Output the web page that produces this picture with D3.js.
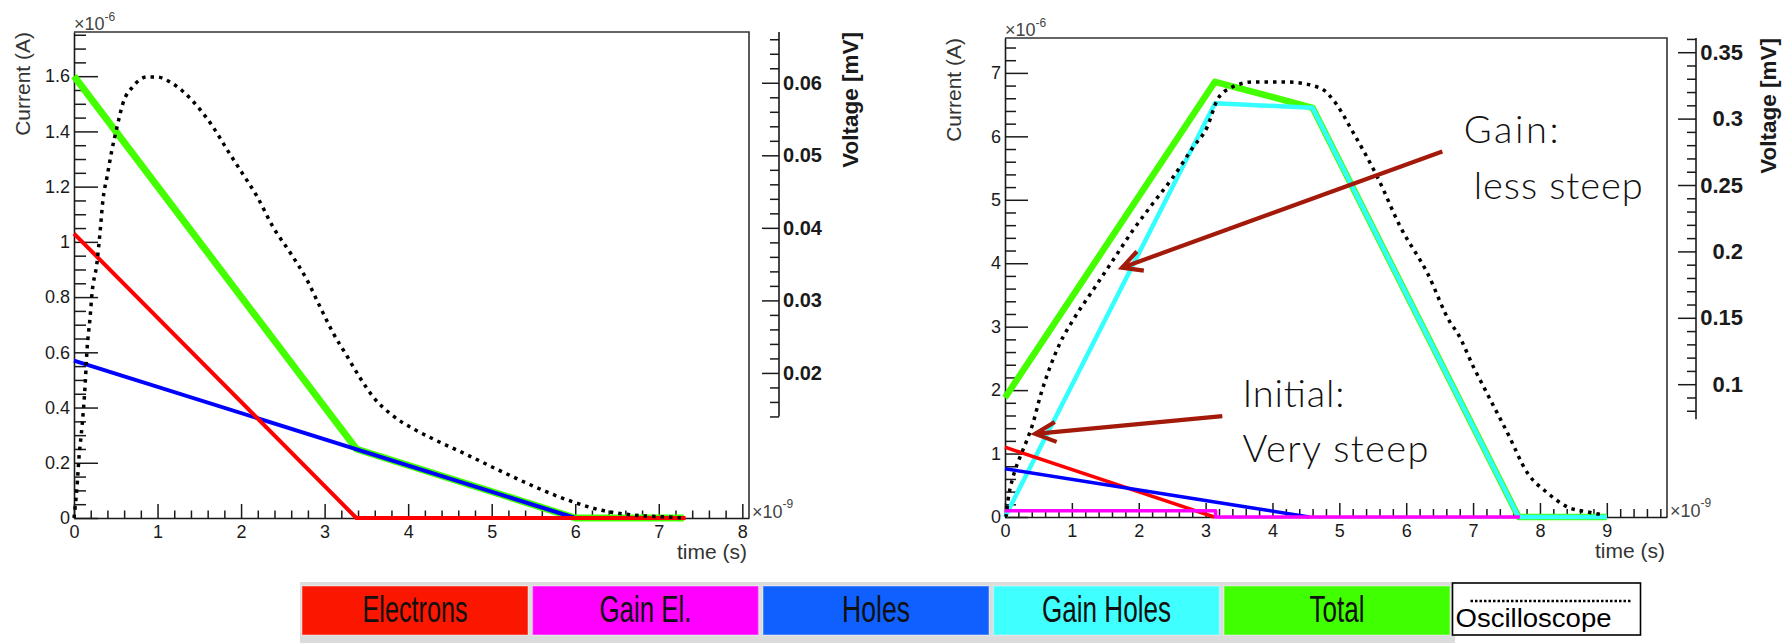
<!DOCTYPE html>
<html>
<head>
<meta charset="utf-8">
<script src="https://cdn.jsdelivr.net/npm/d3@7"></script>
<style>
  body { margin: 0; background: #fff; }
  svg { display: block; }
</style>
</head>
<body>
<svg id="chart" width="1791" height="643"></svg>
<script>
// ---------------- Data ----------------
// Left panel: induced current without gain (time in ns, current in µA)
const leftElectrons = [[0, 1.03], [3.38, 0], [7.32, 0]];
const leftHoles     = [[0, 0.57], [6.0, 0]];
const leftTotal     = [[0, 1.60], [3.38, 0.25], [6.0, 0], [7.3, 0]];
// Left panel: oscilloscope voltage (time in ns, voltage in mV)
const leftScopeTime = [0, 0.036, 0.06, 0.096, 0.132, 0.156, 0.192, 0.216, 0.275, 0.311, 0.347, 0.395,
  0.455, 0.515, 0.587, 0.707, 0.874, 0.994, 1.15, 1.305, 1.509, 1.665, 1.832, 1.988, 2.192, 2.383,
  2.587, 2.79, 2.946, 3.102, 3.269, 3.425, 3.581, 3.784, 4.06, 4.299, 4.707, 5.102, 5.497, 5.904,
  6.299, 6.695, 7.102, 7.293];
const leftScopeVolt = [0, 0.0043, 0.0084, 0.0126, 0.0181, 0.0232, 0.0276, 0.031, 0.0352, 0.0393, 0.0439, 0.047,
  0.0508, 0.0539, 0.0572, 0.0595, 0.0608, 0.0608, 0.0601, 0.0588, 0.0563, 0.0539, 0.0508, 0.048, 0.0443, 0.0401,
  0.0366, 0.0328, 0.0291, 0.0255, 0.0223, 0.0193, 0.0167, 0.0144, 0.0123, 0.0109, 0.0087, 0.0065, 0.0044, 0.0025,
  0.0011, 0.0004, 0.00014, 0];

// Right panel: induced current with gain
const rightElectrons  = [[0, 1.10], [3.13, 0]];
const rightGainEl     = [[0, 0.10], [3.15, 0.10], [3.15, 0], [7.7, 0]];
const rightHoles      = [[0, 0.76], [4.55, 0]];
const rightGainHoles  = [[0, 0], [3.14, 6.52], [4.6, 6.45], [7.68, 0], [9.0, 0]];
const rightTotal      = [[0, 1.88], [3.14, 6.86], [4.6, 6.45], [7.68, 0], [9.0, 0]];
const rightScopeTime = [0, 0.015, 0.045, 0.12, 0.225, 0.329, 0.419, 0.524, 0.674, 0.823, 1.018, 1.317, 1.617,
  1.916, 2.216, 2.515, 2.814, 3.024, 3.174, 3.368, 3.713, 4.222, 4.716, 4.91, 5.21, 5.569, 5.913, 6.317,
  6.662, 6.766, 7.006, 7.26, 7.515, 7.814, 8.114, 8.413, 8.713, 8.952];
const rightScopeVolt = [0, 0.0008, 0.0128, 0.0301, 0.0452, 0.058, 0.0708, 0.0904, 0.113, 0.131, 0.1483, 0.1709, 0.1935,
  0.2161, 0.2364, 0.256, 0.2786, 0.2937, 0.314, 0.323, 0.3276, 0.3276, 0.323, 0.314, 0.2892, 0.256, 0.2184, 0.1837,
  0.1461, 0.1386, 0.113, 0.0881, 0.0633, 0.0331, 0.0181, 0.0075, 0.0038, 0.0015];

// Tick labels
const leftTimeTicks     = [0, 1, 2, 3, 4, 5, 6, 7, 8];
const leftCurrentTicks  = [0, 0.2, 0.4, 0.6, 0.8, 1, 1.2, 1.4, 1.6];
const leftVoltTicks     = [0.02, 0.03, 0.04, 0.05, 0.06];
const rightTimeTicks    = [0, 1, 2, 3, 4, 5, 6, 7, 8, 9];
const rightCurrentTicks = [0, 1, 2, 3, 4, 5, 6, 7];
const rightVoltTicks    = [0.1, 0.15, 0.2, 0.25, 0.3, 0.35];

// Legend entries
const legendLabels = ["Electrons", "Gain El.", "Holes", "Gain Holes", "Total"];
const scopeLabel = "Oscilloscope";

// ---------------- Styles ----------------
const FONT = "'Liberation Sans', Arial, Helvetica, sans-serif";
const lineColor = { electrons: "#ff0000", gainEl: "#ff00ff", holes: "#0000ff", gainHoles: "#33ffff", total: "#44ff00" };
const legendFill = ["#fb1600", "#ff00ff", "#1060ff", "#40ffff", "#40ff00"];
const legendTextLen = [105, 92, 68, 129, 55];
const arrowColor = "#a3190a";

const svg = d3.select("#chart");
svg.append("rect").attr("width", 1791).attr("height", 643).attr("fill", "#fff");

const fmt = d3.format("~g");
function minorValues(lo, hi, step, majors) {
  const out = [];
  for (let k = Math.ceil(lo / step - 1e-9); k * step <= hi + 1e-9; k++) {
    const v = +(k * step).toFixed(6);
    if (!majors.some(m => Math.abs(m - v) < step / 10)) out.push(v);
  }
  return out;
}
function styleAxis(g, fontSize, weight) {
  g.selectAll("line").attr("stroke", "#1a1a1a").attr("stroke-width", 1.5);
  g.selectAll(".domain").attr("stroke", "#1a1a1a").attr("stroke-width", 1.6);
  g.selectAll("text").attr("font-family", FONT).attr("font-size", fontSize)
    .attr("font-weight", weight || "normal").attr("fill", "#1a1a1a");
}

function drawPanel(p) {
  const x = d3.scaleLinear().domain([0, p.tMax]).range([p.left, p.right]);
  const y = d3.scaleLinear().domain([0, p.iMax]).range([p.bottom, p.top]);
  const v = d3.scaleLinear().domain([0, p.vMax]).range([p.bottom, p.top]);
  const g = svg.append("g");

  // frame (top and right edges)
  g.append("path")
    .attr("d", `M${p.left},${p.top}H${p.right}V${p.bottom}`)
    .attr("fill", "none").attr("stroke", "#333").attr("stroke-width", 1.6);

  // current axis (left)
  const ya = g.append("g").attr("transform", `translate(${p.left},0)`)
    .call(d3.axisLeft(y).tickValues(p.curTicks).tickFormat(fmt)
      .tickSizeInner(-p.yMajor).tickSizeOuter(0).tickPadding(4));
  styleAxis(ya, p.tickFont);
  const yam = g.append("g").attr("transform", `translate(${p.left},0)`)
    .call(d3.axisLeft(y).tickValues(minorValues(0, p.iMax, p.curMinor, p.curTicks)).tickFormat("")
      .tickSizeInner(-p.yMinor).tickSizeOuter(0));
  yam.select(".domain").remove();
  styleAxis(yam, p.tickFont);

  // time axis (bottom)
  const xa = g.append("g").attr("transform", `translate(0,${p.bottom})`)
    .call(d3.axisBottom(x).tickValues(p.timeTicks).tickFormat(fmt)
      .tickSizeInner(-p.xMajor).tickSizeOuter(0).tickPadding(7));
  styleAxis(xa, p.tickFont);
  const xam = g.append("g").attr("transform", `translate(0,${p.bottom})`)
    .call(d3.axisBottom(x).tickValues(minorValues(0, p.tMax, 0.2, p.timeTicks)).tickFormat("")
      .tickSizeInner(-p.xMinor).tickSizeOuter(0));
  xam.select(".domain").remove();
  styleAxis(xam, p.tickFont);

  // voltage axis (right, separate scale)
  const va = g.append("g").attr("transform", `translate(${p.vAxisX},0)`)
    .call(d3.axisRight(v).tickValues(p.voltTicks).tickFormat(fmt)
      .tickSizeInner(-p.vMajor).tickSizeOuter(0));
  va.select(".domain").remove();
  styleAxis(va, p.vFont, "bold");
  va.selectAll("text").attr("text-anchor", "end").attr("x", p.vLabelEnd);
  const vam = g.append("g").attr("transform", `translate(${p.vAxisX},0)`)
    .call(d3.axisRight(v).tickValues(minorValues(p.vLow, p.vMax, p.voltMinor, p.voltTicks)).tickFormat("")
      .tickSizeInner(-p.vMinor).tickSizeOuter(0));
  vam.select(".domain").remove();
  styleAxis(vam, p.vFont);
  g.append("line").attr("x1", p.vAxisX).attr("x2", p.vAxisX)
    .attr("y1", v(p.vLow)).attr("y2", p.top)
    .attr("stroke", "#1a1a1a").attr("stroke-width", 1.6);

  // titles
  g.append("text").attr("transform", `translate(${p.curTitleX},${p.top}) rotate(-90)`)
    .attr("text-anchor", "end").attr("font-family", FONT).attr("font-size", 21).attr("fill", "#333")
    .text("Current (A)");
  g.append("text").attr("transform", `translate(${p.vTitleX},${p.top}) rotate(-90)`)
    .attr("text-anchor", "end").attr("font-family", FONT).attr("font-size", p.vTitleFont)
    .attr("font-weight", "bold").attr("fill", "#1a1a1a")
    .text("Voltage [mV]");
  g.append("text").attr("x", p.right - 2).attr("y", p.bottom + 41)
    .attr("text-anchor", "end").attr("font-family", FONT).attr("font-size", 21).attr("fill", "#333")
    .text("time (s)");

  // exponent labels
  const e6 = g.append("text").attr("x", p.left).attr("y", p.top - 2)
    .attr("font-family", FONT).attr("font-size", 18).attr("fill", "#444");
  e6.append("tspan").text("\u00d710");
  e6.append("tspan").attr("dy", -9).attr("font-size", 12).text("-6");
  const e9 = g.append("text").attr("x", p.right + 3).attr("y", p.bottom)
    .attr("font-family", FONT).attr("font-size", 18).attr("fill", "#444");
  e9.append("tspan").text("\u00d710");
  e9.append("tspan").attr("dy", -10).attr("font-size", 12).text("-9");

  // series
  const line = d3.line().x(d => x(d[0])).y(d => y(d[1]));
  p.series.forEach(s => {
    g.append("path").datum(s.data).attr("d", line)
      .attr("fill", "none").attr("stroke", s.color).attr("stroke-width", s.width)
      .attr("stroke-linejoin", "round");
  });
  const scopeLine = d3.line().x(d => x(d[0])).y(d => v(d[1])).curve(d3.curveMonotoneX);
  g.append("path").datum(p.scopeTime.map((t, i) => [t, p.scopeVolt[i]])).attr("d", scopeLine)
    .attr("fill", "none").attr("stroke", "#000").attr("stroke-width", 3.5)
    .attr("stroke-dasharray", "3.5,5");

  return { x, y, v, g };
}

// ---------------- Left panel ----------------
drawPanel({
  left: 74, right: 749, top: 32, bottom: 518,
  tMax: 8.08, iMax: 1.76, vMax: 0.0670, vLow: 0.014,
  timeTicks: leftTimeTicks, curTicks: leftCurrentTicks, voltTicks: leftVoltTicks,
  curMinor: 0.05, voltMinor: 0.002,
  yMajor: 24, yMinor: 12, xMajor: 14, xMinor: 7.5, vMajor: 17, vMinor: 9,
  vAxisX: 779, vLabelEnd: 43, tickFont: 18, vFont: 20, vTitleFont: 22.5,
  curTitleX: 30, vTitleX: 858,
  series: [
    { data: leftTotal, color: lineColor.total, width: 7 },
    { data: leftHoles, color: lineColor.holes, width: 4 },
    { data: leftElectrons, color: lineColor.electrons, width: 4 }
  ],
  scopeTime: leftScopeTime, scopeVolt: leftScopeVolt
});

// ---------------- Right panel ----------------
const R = drawPanel({
  left: 1005, right: 1667, top: 38, bottom: 517,
  tMax: 9.9, iMax: 7.55, vMax: 0.3607, vLow: 0.0736,
  timeTicks: rightTimeTicks, curTicks: rightCurrentTicks, voltTicks: rightVoltTicks,
  curMinor: 0.2, voltMinor: 0.01,
  yMajor: 23, yMinor: 11, xMajor: 14, xMinor: 8, vMajor: 18, vMinor: 9,
  vAxisX: 1696, vLabelEnd: 47, tickFont: 18, vFont: 22, vTitleFont: 22.5,
  curTitleX: 961, vTitleX: 1776,
  series: [
    { data: rightTotal, color: lineColor.total, width: 6.5 },
    { data: rightGainHoles, color: lineColor.gainHoles, width: 4.5 },
    { data: rightElectrons, color: lineColor.electrons, width: 3.5 },
    { data: rightHoles, color: lineColor.holes, width: 3.5 },
    { data: rightGainEl, color: lineColor.gainEl, width: 3.5 }
  ],
  scopeTime: rightScopeTime, scopeVolt: rightScopeVolt
});

// ---------------- Annotations (right panel, in data units) ----------------
function arrow(from, to, legLen, spread) {
  const x1 = R.x(from[0]), y1 = R.y(from[1]), x2 = R.x(to[0]), y2 = R.y(to[1]);
  const back = Math.atan2(y1 - y2, x1 - x2);
  const legs = [back - spread, back + spread].map(a => [x2 + legLen * Math.cos(a), y2 + legLen * Math.sin(a)]);
  R.g.append("line").attr("x1", x1).attr("y1", y1).attr("x2", x2).attr("y2", y2)
    .attr("stroke", arrowColor).attr("stroke-width", 4.2);
  R.g.append("path")
    .attr("d", `M${legs[0][0]},${legs[0][1]}L${x2},${y2}L${legs[1][0]},${legs[1][1]}`)
    .attr("fill", "none").attr("stroke", arrowColor).attr("stroke-width", 4.2)
    .attr("stroke-linejoin", "miter");
}
arrow([6.54, 5.76], [1.75, 3.93], 22, 0.48);
arrow([3.25, 1.59], [0.45, 1.31], 23, 0.45);

const noteFont = "Lato, 'Open Sans', sans-serif";
[
  { t: 6.86, i: 5.90, text: "Gain:", len: 95 },
  { t: 7.01, i: 5.02, text: "less steep", len: 169 },
  { t: 3.55, i: 1.735, text: "Initial:", len: 102 },
  { t: 3.55, i: 0.87, text: "Very steep", len: 186 }
].forEach(n => {
  R.g.append("text").attr("x", R.x(n.t)).attr("y", R.y(n.i))
    .attr("font-family", noteFont).attr("font-weight", 300).attr("font-size", 38)
    .attr("fill", "#111").attr("textLength", n.len).attr("lengthAdjust", "spacing")
    .text(n.text);
});

// ---------------- Legend ----------------
const leg = svg.append("g");
leg.append("rect").attr("x", 300).attr("y", 582).attr("width", 1155).attr("height", 61).attr("fill", "#dcdcdc");
const boxW = 226, boxGap = 4.5, boxX0 = 302;
legendLabels.forEach((lab, k) => {
  const bx = boxX0 + k * (boxW + boxGap);
  leg.append("rect").attr("x", bx).attr("y", 586).attr("width", boxW).attr("height", 49)
    .attr("fill", legendFill[k]).attr("stroke", "#fff").attr("stroke-opacity", 0.3).attr("stroke-width", 1.5);
  leg.append("text").attr("x", bx + boxW / 2).attr("y", 622).attr("text-anchor", "middle")
    .attr("font-family", "'Liberation Sans Narrow', 'Liberation Sans', sans-serif").attr("font-size", 37)
    .attr("fill", "#111").attr("textLength", legendTextLen[k]).attr("lengthAdjust", "spacingAndGlyphs")
    .text(lab);
});
const ox = boxX0 + 5 * (boxW + boxGap) - 2;
leg.append("rect").attr("x", ox).attr("y", 583).attr("width", 188).attr("height", 52)
  .attr("fill", "#fff").attr("stroke", "#000").attr("stroke-width", 1.6);
leg.append("line").attr("x1", ox + 18).attr("x2", ox + 178).attr("y1", 601).attr("y2", 601)
  .attr("stroke", "#000").attr("stroke-width", 2.5).attr("stroke-dasharray", "2.5,2");
leg.append("text").attr("x", ox + 3).attr("y", 627)
  .attr("font-family", FONT).attr("font-size", 26).attr("fill", "#000")
  .attr("textLength", 156).attr("lengthAdjust", "spacingAndGlyphs")
  .text(scopeLabel);
</script>
</body>
</html>
